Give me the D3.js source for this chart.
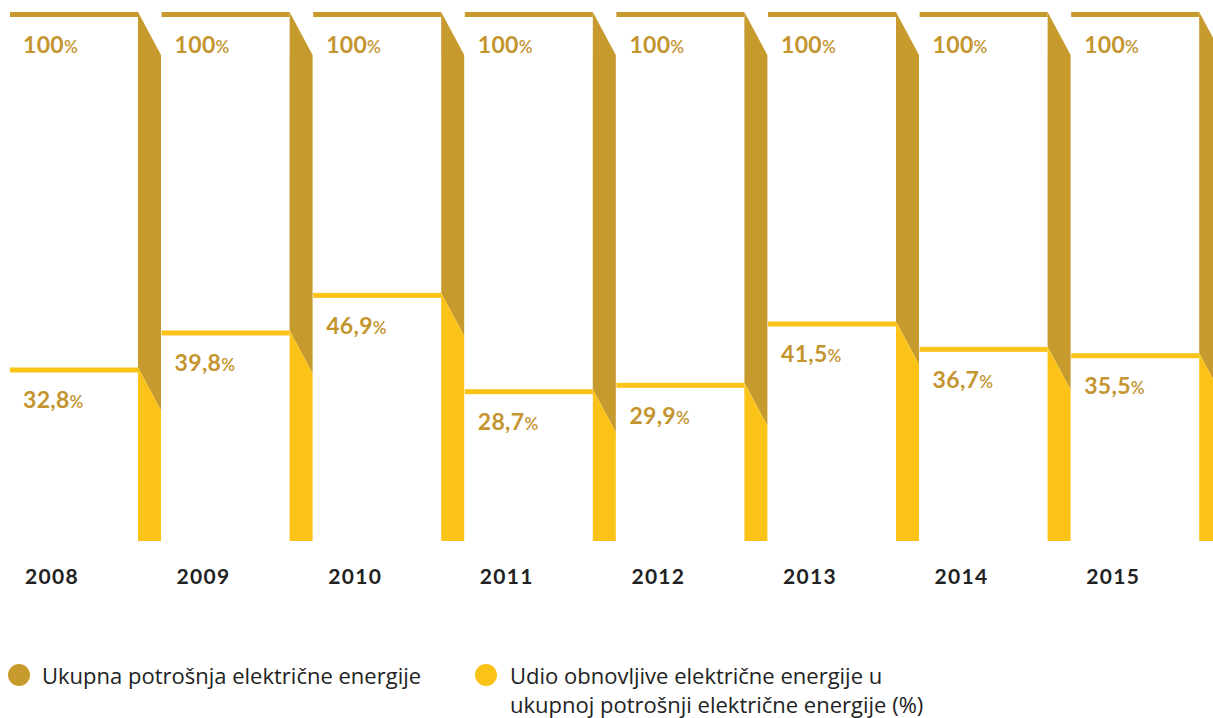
<!DOCTYPE html>
<html>
<head>
<meta charset="utf-8">
<script src="https://cdn.jsdelivr.net/npm/d3@7"></script>
<style>
  html, body { margin: 0; padding: 0; background: #fff; overflow: hidden; }
  svg { display: block; }
</style>
</head>
<body>
<svg id="chart" width="1213" height="718"></svg>
<script>
// ---- data ----
const years = ["2008", "2009", "2010", "2011", "2012", "2013", "2014", "2015"];
const totalValues = [100, 100, 100, 100, 100, 100, 100, 100];
const renewableShare = [32.8, 39.8, 46.9, 28.7, 29.9, 41.5, 36.7, 35.5];
const legendLabels = [
  ["Ukupna potrošnja električne energije"],
  ["Udio obnovljive električne energije u", "ukupnoj potrošnji električne energije (%)"]
];

// ---- styles ----
const GOLD = "#C79A2E";
const YELLOW = "#FBC317";
const LABEL = "#C4952F";
const DARK = "#222222";
const FONT = "Lato, 'Source Sans Pro', 'Open Sans', sans-serif";
const LEGEND_FONT = "'Open Sans', 'Noto Sans', sans-serif";

const svg = d3.select("#chart");

const x = d3.scaleBand().domain(years).range([10, 10 + 151.6 * years.length]).padding(0);
const y = d3.scaleLinear().domain([0, 100]).range([541, 12]);

const FRONT = 128, SIDE = 23, DEPTH = 43, THICK = 5;

const data = years.map((yr, i) => ({ year: yr, total: totalValues[i], share: renewableShare[i] }));

const fmt = v => (v === 100 ? "100" : d3.format(".1f")(v).replace(".", ","));

const col = svg.selectAll("g.col").data(data).join("g").attr("class", "col")
  .attr("transform", d => `translate(${x(d.year)},0)`);

// side face - gold (upper)
col.append("path")
  .attr("fill", GOLD)
  .attr("d", d => {
    const t = y(d.total), s = y(d.share);
    return `M${FRONT},${t} L${FRONT + SIDE},${t + DEPTH} L${FRONT + SIDE},${s + DEPTH} L${FRONT},${s} Z`;
  });
// side face - yellow (lower)
col.append("path")
  .attr("fill", YELLOW)
  .attr("d", d => {
    const s = y(d.share), b = y(0);
    return `M${FRONT},${s} L${FRONT + SIDE},${s + DEPTH} L${FRONT + SIDE},${b} L${FRONT},${b} Z`;
  });
// top bar
col.append("rect")
  .attr("x", 0).attr("width", FRONT)
  .attr("y", d => y(d.total)).attr("height", THICK)
  .attr("fill", GOLD);
// share line
col.append("rect")
  .attr("x", 0).attr("width", FRONT)
  .attr("y", d => y(d.share)).attr("height", THICK)
  .attr("fill", YELLOW);

// value labels
function addLabel(sel, acc) {
  const t = sel.append("text")
    .attr("x", 13)
    .attr("y", d => y(acc(d)) + 41)
    .attr("fill", LABEL)
    .attr("font-family", FONT);
  t.append("tspan").attr("font-size", 23).attr("font-weight", 700).attr("letter-spacing", 0.3).text(d => fmt(acc(d)));
  t.append("tspan").attr("font-size", 17).attr("font-weight", 600).text("%");
}
addLabel(col, d => d.total);
addLabel(col, d => d.share);

// year labels
col.append("text")
  .attr("x", 15)
  .attr("y", 584)
  .attr("fill", DARK)
  .attr("font-family", FONT)
  .attr("font-size", 21)
  .attr("font-weight", 700)
  .attr("letter-spacing", 1.3)
  .text(d => d.year);

// legend
const legendItems = [
  { color: GOLD, cx: 19, tx: 42, lines: legendLabels[0] },
  { color: YELLOW, cx: 486, tx: 510, lines: legendLabels[1] }
];
const lg = svg.selectAll("g.legend").data(legendItems).join("g").attr("class", "legend");
lg.append("circle").attr("cx", d => d.cx).attr("cy", 675).attr("r", 11).attr("fill", d => d.color);
lg.append("text")
  .attr("font-family", LEGEND_FONT)
  .attr("font-size", 22)
  .attr("fill", DARK)
  .selectAll("tspan").data(d => d.lines.map((l, i) => ({ l, i, tx: d.tx })))
  .join("tspan")
  .attr("x", d => d.tx)
  .attr("y", d => 684 + d.i * 29)
  .text(d => d.l);
</script>
</body>
</html>
